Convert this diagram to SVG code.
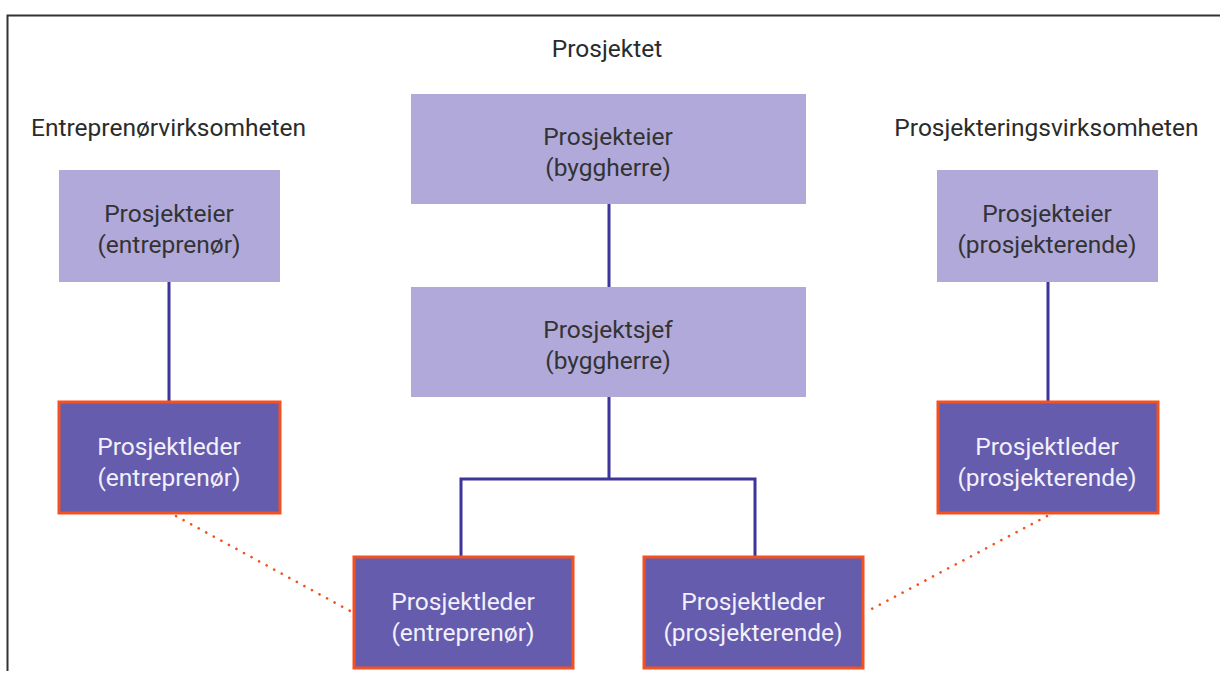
<svg xmlns="http://www.w3.org/2000/svg" width="1220" height="693" viewBox="0 0 1220 693">
  <style>
    .lbl { font-family: Roboto, "Liberation Sans", sans-serif; font-size: 24.5px; fill: #2b2b2b; text-anchor: middle; }
    .light { fill: #b1a9da; }
    .dark { fill: #655cae; stroke: #f4511e; stroke-width: 3; }
    .t-light { font-family: Roboto, "Liberation Sans", sans-serif; font-size: 24.5px; fill: #333333; text-anchor: middle; }
    .t-dark { font-family: Roboto, "Liberation Sans", sans-serif; font-size: 24.5px; fill: #f2f0fa; text-anchor: middle; }
    .link { fill: none; stroke: #3d3599; stroke-width: 3; }
    .dots { fill: none; stroke: #f4511e; stroke-width: 2.6; stroke-dasharray: 0.1 8.5; stroke-linecap: round; }
  </style>
  <rect width="1220" height="693" fill="#ffffff"/>
  <!-- page frame -->
  <path d="M7.5 671 V15.5 H1220" fill="none" stroke="#333333" stroke-width="2"/>

  <!-- section headings -->
  <text class="lbl" x="607" y="57">Prosjektet</text>
  <text class="lbl" x="168.5" y="136">Entreprenørvirksomheten</text>
  <text class="lbl" x="1046.5" y="136">Prosjekteringsvirksomheten</text>

  <!-- connectors -->
  <g id="connectors">
    <path class="link" d="M169 282 V401"/>
    <path class="link" d="M1048 282 V401"/>
    <path class="link" d="M609 204 V287"/>
    <path class="link" d="M609 397 V479 M461 556 V479 H755 V556"/>
    <path class="dots" d="M176 516 L352 612"/>
    <path class="dots" d="M1047 516 L866 612"/>
  </g>

  <g id="po-byggherre">
    <rect class="light" x="411" y="94" width="395" height="110"/>
    <text class="t-light" x="608" y="145">Prosjekteier</text>
    <text class="t-light" x="608" y="176">(byggherre)</text>
  </g>
  <g id="pj-byggherre">
    <rect class="light" x="411" y="287" width="395" height="110"/>
    <text class="t-light" x="608" y="338">Prosjektsjef</text>
    <text class="t-light" x="608" y="369">(byggherre)</text>
  </g>
  <g id="po-entreprenor">
    <rect class="light" x="59" y="170" width="221" height="112"/>
    <text class="t-light" x="169" y="222">Prosjekteier</text>
    <text class="t-light" x="169" y="253">(entreprenør)</text>
  </g>
  <g id="po-prosjekterende">
    <rect class="light" x="937" y="170" width="221" height="112"/>
    <text class="t-light" x="1047" y="222">Prosjekteier</text>
    <text class="t-light" x="1047" y="253">(prosjekterende)</text>
  </g>
  <g id="pl-entreprenor-left">
    <rect class="dark" x="59" y="402" width="221" height="111"/>
    <text class="t-dark" x="169" y="455">Prosjektleder</text>
    <text class="t-dark" x="169" y="486">(entreprenør)</text>
  </g>
  <g id="pl-prosjekterende-right">
    <rect class="dark" x="938" y="402" width="220" height="111"/>
    <text class="t-dark" x="1047" y="455">Prosjektleder</text>
    <text class="t-dark" x="1047" y="486">(prosjekterende)</text>
  </g>
  <g id="pl-entreprenor-center">
    <rect class="dark" x="354" y="557" width="219" height="111"/>
    <text class="t-dark" x="463" y="610">Prosjektleder</text>
    <text class="t-dark" x="463" y="641">(entreprenør)</text>
  </g>
  <g id="pl-prosjekterende-center">
    <rect class="dark" x="644" y="557" width="219" height="111"/>
    <text class="t-dark" x="753" y="610">Prosjektleder</text>
    <text class="t-dark" x="753" y="641">(prosjekterende)</text>
  </g>
</svg>
